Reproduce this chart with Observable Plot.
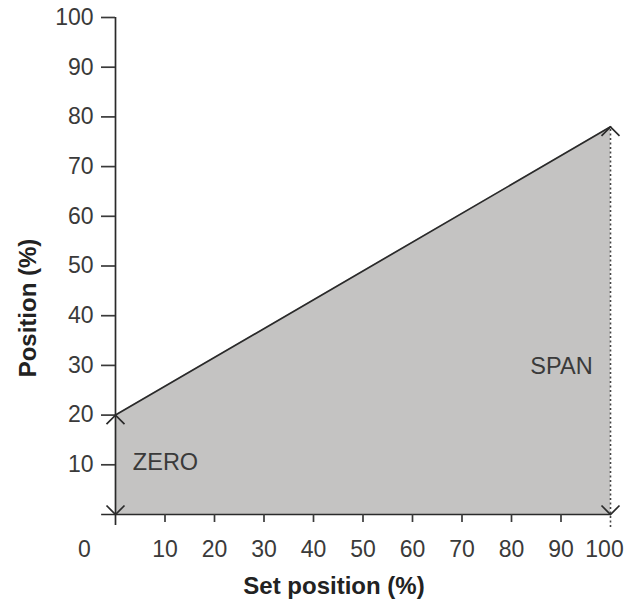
<!DOCTYPE html>
<html><head><meta charset="utf-8">
<script src="https://cdn.jsdelivr.net/npm/d3@7"></script>
<script src="https://cdn.jsdelivr.net/npm/@observablehq/plot@0.6"></script>
<style>body{margin:0;background:#fff}</style>
</head><body><div id="chart"></div>
<script>
// Data
const setPosition = [0, 100];
const position = [20, 78];
const xTicks = [10, 20, 30, 40, 50, 60, 70, 80, 90];
const xEndTick = [100];
const yTicks = [10, 20, 30, 40, 50, 60, 70, 80, 90, 100];
const originTick = [0];
const zoneText = ["ZERO", "SPAN"];
const zoneX = [10.1, 90.1];
const zoneY = [10.5, 29.8];
const xLabel = "Set position (%)";
const yLabel = "Position (%)";

const line = setPosition.map((x, i) => ({x, y: position[i]}));
const zones = zoneText.map((t, i) => ({t, x: zoneX[i], y: zoneY[i]}));
const zeroArrows = [{x: setPosition[0], y: position[0], dir: "up"}, {x: setPosition[0], y: 0, dir: "down"}];
const spanArrows = [{x: setPosition[1], y: position[1], dir: "up"}, {x: setPosition[1], y: 0, dir: "down"}];

const chevron = (up) => ({
  draw(ctx, size) {
    const r = Math.sqrt(size / Math.PI);
    const s = up ? 1 : -1;
    ctx.moveTo(-r, s * r);
    ctx.lineTo(0, 0);
    ctx.lineTo(r, s * r);
  }
});
const chevUp = chevron(true), chevDown = chevron(false);
const ink = "#2a2a2a";
const FONT = "Liberation Sans, Arimo, Arial, sans-serif";

const chart = Plot.plot({
  width: 637, height: 604,
  marginLeft: 115, marginRight: 27, marginTop: 17, marginBottom: 90,
  x: {domain: [0, 100]},
  y: {domain: [0, 100]},
  style: {fontFamily: FONT, fontSize: "23px", color: "#3a3a3a", background: "#fff"},
  marks: [
    Plot.areaY(line, {x: "x", y: "y", fill: "#c4c3c2"}),
    Plot.ruleX(xEndTick, {y1: -2.6, y2: position[1], stroke: "#444", strokeWidth: 1.6, strokeDasharray: "2,2.5"}),
    Plot.line(line, {x: "x", y: "y", stroke: ink, strokeWidth: 1.7}),
    Plot.ruleX(originTick, {y1: -2.2, y2: 100, stroke: ink, strokeWidth: 1.7}),
    Plot.ruleY(originTick, {x1: -2.8, x2: 100, stroke: ink, strokeWidth: 1.7}),
    Plot.axisY({ticks: yTicks, tickSize: 14, tickPadding: 8, label: null, tickFormat: d => d, strokeWidth: 1.7}),
    Plot.axisX({ticks: xTicks, tickSize: 8, tickPadding: 18, label: null, tickFormat: d => d, strokeWidth: 1.7}),
    Plot.axisX({ticks: xEndTick, tickSize: 0, tickPadding: 26, label: null, tickFormat: d => d, dx: -6}),
    Plot.axisX({ticks: originTick, tickSize: 0, tickPadding: 26, label: null, tickFormat: d => d, dx: -31}),
    Plot.dot([...zeroArrows, ...spanArrows], {x: "x", y: "y", r: 9, symbol: d => d.dir === "up" ? chevUp : chevDown, stroke: ink, strokeWidth: 1.7, fill: "none"}),
    Plot.text(zones, {x: "x", y: "y", text: "t", fill: "#3a3a3a", fontSize: 23.5}),
    Plot.text([yLabel], {frameAnchor: "left", textAnchor: "middle", lineAnchor: "middle", rotate: -90, dx: -87, dy: 42, fontWeight: "bold", fontSize: 24, fill: "#222"}),
    Plot.text([xLabel], {frameAnchor: "bottom", textAnchor: "middle", lineAnchor: "middle", dx: -29, dy: 72, fontWeight: "bold", fontSize: 24, fill: "#222"})
  ]
});
document.getElementById("chart").appendChild(chart);
</script>
</body></html>
